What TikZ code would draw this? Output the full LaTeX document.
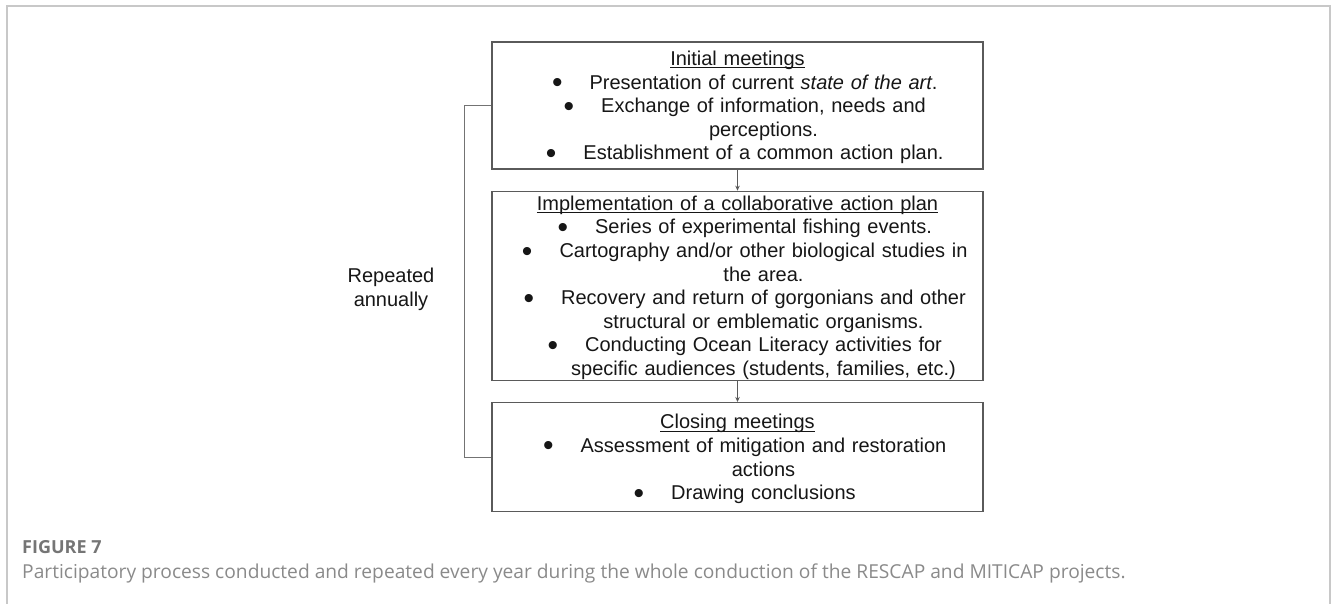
\documentclass[tikz,border=0pt]{standalone}
\usepackage{graphicx}
\usepackage{fontspec}
\setmainfont{Liberation Sans}
\newfontfamily\capfont{Open Sans}
\usetikzlibrary{arrows.meta,positioning}

\definecolor{framegray}{HTML}{C8C8C8}
\definecolor{boxgray}{HTML}{5A5A5A}
\definecolor{inkgray}{HTML}{161616}
\definecolor{capgray}{HTML}{8A8A8A}

% bullet hanging left of the first line, underlined heading
\newcommand{\bul}{\leavevmode\llap{\raisebox{-3.5pt}{\scalebox{1.5}{\textbullet}}\hspace{27pt}}}
\newcommand{\undl}[1]{\setbox0\hbox{#1}\rule{0pt}{18.5pt}\rlap{\rule[-2.8pt]{\wd0}{1.1pt}}\box0}
\newcommand{\itemzone}{\par\leftskip=52pt plus 1fil\rightskip=0pt plus 1fil}

\begin{document}
\begin{tikzpicture}[x=1pt, y=-1pt, >={Stealth[length=5pt,width=4.5pt]},
    box/.style={draw=boxgray, line width=1.3pt, text=inkgray, inner xsep=0pt, inner ysep=0pt,
        text width=491pt, minimum width=491pt,
        font=\fontsize{20}{23.6}\selectfont,
        execute at begin node={\parindent=0pt\leftskip=0pt plus 1fil\rightskip=0pt plus 1fil\parfillskip=0pt}},
    link/.style={draw=boxgray, line width=1pt},
    loopline/.style={draw=boxgray!85, line width=1.2pt}]
    \useasboundingbox (0,0) rectangle (1333,604);

    % Frame
    \draw [framegray, line width=1.4pt] (7,604) -- (7,6) -- (1330,6) -- (1330,604);

    % Nodes {init, impl, close}
    \node [box, minimum height=127pt] (init) at (737.5,105.5) {%
        \undl{Initial meetings}\itemzone
        \bul Presentation of current \textit{state of the art}.\par
        \bul Exchange of information, needs and\par perceptions.\par
        \bul Establishment of a common action plan.\par};
    \node [box, minimum height=189pt] (impl) [below=21pt of init] {%
        \undl{Implementation of a collaborative action plan}\itemzone
        \bul Series of experimental fishing events.\par
        \bul Cartography and/or other biological studies in\par the area.\par
        \bul Recovery and return of gorgonians and other\par structural or emblematic organisms.\par
        \bul Conducting Ocean Literacy activities for\par specific audiences (students, families, etc.)\par};
    \node [box, minimum height=109pt] (close) [below=21pt of impl] {%
        \undl{Closing meetings}\itemzone
        \bul Assessment of mitigation and restoration\par actions\par
        \bul Drawing conclusions\par};

    \node [text=inkgray, align=center, font=\fontsize{20}{24}\selectfont] (rep) at (391,289) {Repeated\\annually};

    % Paths
    \path [->] (init) edge [link] (impl);
    \path [->] (impl) edge [link] (close);
    \draw [loopline] (init.west) -- ++(-26.5,0) |- (close.west);

    % Caption
    \node [anchor=base west, text=capgray!85!black, font=\capfont\bfseries\fontsize{18}{20}\selectfont, inner sep=0pt] (fig) at (22,553) {FIGURE 7};
    \node [anchor=base west, text=capgray, font=\capfont\fontsize{19.2}{22}\selectfont, inner sep=0pt] (cap) at (22,578) {Participatory process conducted and repeated every year during the whole conduction of the RESCAP and MITICAP projects.};
\end{tikzpicture}
\end{document}
